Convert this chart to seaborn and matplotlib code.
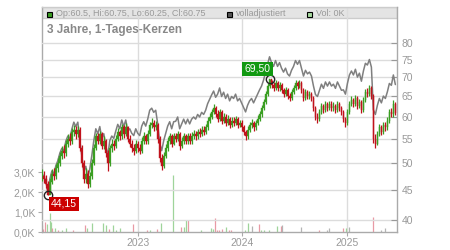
import numpy as np
import pandas as pd
import matplotlib
matplotlib.use("Agg")
import matplotlib.pyplot as plt
import matplotlib.dates as mdates
from matplotlib.patches import Rectangle
from matplotlib.ticker import NullLocator
import seaborn as sns

# ---------------- data ----------------
start_date = "2022-01-28"   # weekly candles
close = [
    47.5, 47, 46, 44.15, 46.5, 48, 47.5, 49, 50, 51.5,
    52.5, 52, 54, 55, 54.5, 56.5, 57, 56, 57, 53,
    50, 47, 48, 46, 47.5, 50, 53, 55.5, 54.5, 56,
    53.5, 54.5, 52, 50, 53, 54, 53.5, 55, 56.5, 55.5,
    57.5, 56, 57.5, 55, 54, 53, 52.5, 54, 53, 52.5,
    54.5, 55.5, 54.5, 56, 58, 58.5, 57.5, 58, 55, 51,
    49.5, 51.5, 53, 54.5, 55.5, 54, 55.5, 55, 56, 53.5,
    54.5, 55.5, 54.5, 55.5, 54.5, 55.5, 56, 55.5, 56.5, 56,
    57, 56.5, 57.5, 59, 60, 61, 62, 60.5, 59.5, 61,
    59, 60, 58.5, 59.5, 58, 59, 58.5, 59.5, 58, 58.5,
    57.5, 56.5, 55.5, 57, 58, 58.5, 57.5, 58.5, 59.5, 60.5,
    62, 63.5, 65.5, 67.5, 69.5, 68, 67, 68.5, 67, 68,
    66.5, 65.5, 66.5, 65, 64.5, 66, 67, 68.5, 67.5, 68.5,
    66.5, 64.5, 66, 65, 65.5, 64.5, 62, 60, 59.5, 61,
    62.5, 61.5, 63, 62, 63, 62, 62.5, 61.5, 63, 62,
    61, 59.5, 58.5, 61, 63, 64, 63, 64.5, 62.5, 63.5,
    61.5, 64, 66, 65.5, 67, 65, 55, 54, 56, 57.5,
    56.5, 58, 57.5, 59, 61, 60.5, 63, 60.75,
]
high = [
    48.8, 48.5, 47.8, 46.6, 47.2, 48.9, 49.0, 49.8, 51.0, 52.3,
    53.5, 53.6, 54.8, 56.0, 56.2, 57.3, 58.0, 57.8, 57.8, 57.5,
    53.6, 50.6, 49.0, 48.6, 48.3, 50.8, 53.8, 56.2, 56.3, 56.8,
    56.5, 55.5, 55.0, 52.6, 53.6, 55.0, 54.8, 55.8, 57.3, 57.0,
    58.3, 58.0, 58.4, 57.9, 55.8, 54.7, 53.8, 54.8, 54.6, 53.9,
    55.3, 56.4, 56.0, 56.9, 58.8, 59.6, 59.2, 59.0, 58.4, 55.5,
    51.8, 52.3, 53.8, 55.3, 56.3, 56.0, 56.2, 56.3, 56.8, 56.4,
    55.3, 56.2, 56.0, 56.3, 56.2, 56.4, 56.9, 56.7, 57.2, 57.3,
    57.8, 57.8, 58.3, 59.8, 60.9, 61.9, 63.0, 62.6, 61.5, 61.9,
    61.5, 60.8, 60.5, 60.3, 60.0, 59.8, 59.8, 60.2, 60.0, 59.3,
    59.2, 58.0, 57.0, 57.8, 58.8, 59.4, 59.0, 59.3, 60.3, 61.3,
    62.7, 64.3, 66.3, 68.3, 69.5, 69.3, 68.7, 69.2, 68.9, 68.8,
    68.5, 67.2, 67.3, 67.0, 65.8, 66.8, 67.9, 69.2, 69.0, 69.3,
    68.9, 67.0, 66.8, 66.6, 66.4, 66.0, 65.0, 62.5, 60.8, 61.8,
    63.3, 63.0, 63.8, 63.6, 63.8, 63.7, 63.4, 63.0, 63.8, 63.6,
    62.6, 61.6, 60.0, 61.8, 63.8, 64.9, 64.6, 65.3, 65.0, 64.3,
    64.0, 64.8, 66.8, 67.0, 68.0, 67.5, 65.5, 56.0, 56.8, 58.3,
    58.0, 58.8, 58.7, 59.8, 61.8, 62.0, 64.0, 63.5,
]
low = [
    46.6, 46.2, 45.3, 44.15, 44.5, 46.0, 46.8, 47.0, 48.3, 49.5,
    50.8, 51.0, 51.5, 53.2, 53.6, 54.0, 55.6, 55.0, 55.4, 52.4,
    49.3, 46.3, 46.2, 45.4, 45.5, 47.0, 49.6, 52.6, 53.8, 54.0,
    52.8, 52.8, 51.3, 48.5, 49.4, 52.3, 52.6, 53.0, 54.5, 54.8,
    55.0, 55.2, 55.5, 54.3, 53.2, 52.2, 51.6, 52.0, 52.3, 51.8,
    52.0, 54.0, 53.8, 54.0, 55.5, 57.3, 56.8, 56.9, 54.2, 50.2,
    48.6, 49.0, 51.0, 52.5, 54.0, 53.2, 53.6, 54.3, 54.5, 52.7,
    53.0, 54.0, 53.9, 54.0, 53.8, 54.0, 55.0, 54.8, 55.0, 55.3,
    55.5, 55.9, 56.0, 57.0, 58.5, 59.5, 60.5, 59.8, 58.8, 59.0,
    58.3, 58.4, 57.8, 58.0, 57.3, 57.5, 57.8, 58.0, 57.3, 57.5,
    56.8, 55.8, 54.8, 55.0, 56.5, 57.4, 56.8, 57.0, 58.0, 59.0,
    60.0, 61.5, 63.0, 65.0, 67.0, 67.2, 66.2, 66.5, 66.3, 66.4,
    65.8, 64.7, 65.0, 64.3, 63.7, 64.0, 65.5, 66.5, 66.8, 67.0,
    65.8, 63.7, 64.0, 64.2, 64.3, 63.7, 61.3, 59.2, 58.6, 59.0,
    60.5, 60.8, 61.0, 61.3, 61.5, 61.2, 61.4, 60.8, 61.0, 61.3,
    60.3, 58.8, 57.6, 58.0, 60.5, 62.5, 62.2, 62.5, 61.8, 62.0,
    60.8, 61.0, 63.5, 64.8, 65.0, 64.2, 54.2, 53.0, 53.6, 55.5,
    55.8, 56.0, 56.8, 57.0, 58.5, 59.8, 60.0, 60.25,
]
adjusted = [
    48.0, 47.5, 46.5, 44.6, 47.0, 48.5, 48.0, 49.5, 50.5, 52.0,
    53.0, 52.5, 54.5, 55.6, 55.0, 57.1, 58.7, 57.7, 58.7, 54.6,
    51.5, 48.4, 49.4, 47.4, 48.9, 51.5, 54.6, 57.2, 56.1, 57.7,
    55.1, 56.1, 53.6, 51.5, 54.6, 55.6, 55.1, 56.7, 58.2, 57.2,
    59.2, 57.7, 59.2, 56.7, 57.2, 56.2, 55.7, 57.2, 56.2, 55.7,
    57.8, 58.8, 57.8, 59.4, 61.5, 62.0, 61.0, 61.5, 58.3, 54.1,
    52.5, 54.6, 56.2, 57.8, 58.8, 57.2, 58.8, 58.9, 59.9, 57.2,
    58.3, 59.4, 58.3, 59.4, 58.3, 59.4, 59.9, 59.4, 60.5, 59.9,
    61.0, 60.5, 61.5, 63.1, 64.2, 65.3, 66.3, 64.7, 65.5, 67.1,
    64.9, 66.0, 64.4, 65.5, 63.8, 64.9, 64.4, 65.5, 63.8, 64.4,
    63.3, 62.2, 61.1, 62.7, 63.8, 64.4, 63.3, 64.4, 65.5, 66.6,
    67.6, 69.2, 71.4, 73.6, 75.8, 74.1, 73.0, 74.7, 73.0, 74.1,
    72.5, 71.4, 72.5, 70.9, 70.3, 71.9, 73.0, 74.7, 73.6, 74.7,
    72.5, 70.3, 71.9, 70.9, 71.4, 70.3, 67.6, 65.4, 64.9, 66.5,
    68.1, 67.0, 68.7, 67.6, 68.7, 67.6, 68.1, 67.0, 68.7, 67.6,
    66.5, 66.6, 65.5, 68.3, 70.6, 71.7, 70.6, 72.2, 70.0, 71.1,
    68.9, 71.7, 73.9, 73.4, 75.0, 72.8, 61.6, 60.5, 62.7, 64.4,
    63.3, 65.0, 64.4, 66.1, 68.3, 67.8, 70.6, 68.0,
]
vol_dates = [
    "2022-01-27", "2022-02-02", "2022-02-08", "2022-02-16", "2022-02-24",
    "2022-03-01", "2022-03-04", "2022-03-15", "2022-03-25", "2022-04-08",
    "2022-04-22", "2022-05-17", "2022-06-27", "2022-07-04", "2022-07-21",
    "2022-08-31", "2022-09-09", "2022-09-19", "2022-10-05", "2022-10-14",
    "2022-10-28", "2022-12-14", "2023-01-30", "2023-02-10", "2023-03-06",
    "2023-03-21", "2023-05-03", "2023-05-30", "2023-06-09", "2023-06-16",
    "2023-06-23", "2023-08-09", "2023-09-13", "2023-09-19", "2023-09-27",
    "2023-10-04", "2023-10-10", "2023-10-20", "2023-11-03", "2023-11-14",
    "2023-11-21", "2024-01-10", "2024-01-19", "2024-02-05", "2024-02-27",
    "2024-03-06", "2024-03-18", "2024-04-04", "2024-04-30", "2024-05-14",
    "2024-05-17", "2024-07-26", "2024-09-25", "2024-10-25", "2024-10-31",
    "2024-12-20", "2024-12-30", "2025-01-10", "2025-04-04", "2025-04-30",
    "2025-05-16",
]
vol_k = [
    0.35, 0.15, 0.5, 0.4, 0.95, 0.5, 0.2, 0.2, 0.1, 0.1,
    0.2, 0.1, 0.35, 0.2, 0.45, 0.45, 0.35, 0.15, 0.35, 0.1,
    0.2, 0.4, 0.1, 0.1, 0.15, 0.45, 2.85, 0.25, 0.25, 0.6,
    0.6, 0.1, 0.2, 0.15, 0.7, 0.1, 0.1, 0.15, 0.25, 0.1,
    0.1, 0.1, 0.45, 0.3, 0.4, 0.1, 0.1, 0.1, 0.3, 0.3,
    0.35, 0.25, 0.1, 0.1, 0.2, 0.2, 0.2, 0.25, 0.75, 0.1,
    0.2,
]
vol_dir = [
    "d", "d", "d", "u", "u", "u", "d", "u", "d", "u",
    "u", "d", "d", "u", "u", "u", "u", "d", "u", "u",
    "u", "d", "d", "u", "d", "u", "u", "d", "u", "u",
    "d", "u", "u", "u", "d", "d", "d", "d", "u", "d",
    "d", "u", "u", "n", "d", "u", "u", "u", "u", "d",
    "n", "n", "d", "n", "n", "d", "u", "n", "d", "n",
    "n",
]
last_ohlc = [60.5, 60.75, 60.25, 60.75]
last_vol_k = 0
price_ticks = [40, 45, 50, 55, 60, 65, 70, 75, 80]
vol_ticks = [0, 1, 2, 3]
year_ticks = ["2023-01-01", "2024-01-01", "2025-01-01"]
title = "3 Jahre, 1-Tages-Kerzen"

# ---------------- styling ----------------
sns.set_theme(style="white")
plt.rcParams["font.family"] = ["Liberation Sans", "DejaVu Sans"]

UP, DOWN = "#3a9e22", "#c0121c"
VOL_COL = {"u": "#9fd49a", "d": "#e89aa5", "n": "#b4b4b4"}
TXT = "#999999"

dates = pd.date_range(start_date, periods=len(close), freq="7D")
df = pd.DataFrame({"date": dates, "close": close, "high": high, "low": low,
                   "adjusted": adjusted})
df["open"] = df["close"].shift(1).fillna(df["close"])
df["lo"] = df[["open", "close"]].min(axis=1)
df["hi"] = df[["open", "close"]].max(axis=1)
up_mask = (df["close"] >= df["open"]).to_numpy()

W, H = 450, 250
fig = plt.figure(figsize=(W / 100, H / 100), dpi=100)
L, R, T, B = 41.5, 397.3, 7, 232
axv = fig.add_axes([L / W, (H - B) / H, (R - L) / W, (B - T) / H])
axp = axv.twinx()

# ---- volume (left axis) ----
vd = pd.to_datetime(vol_dates)
axv.vlines(vd, 0, vol_k, colors=[VOL_COL[c] for c in vol_dir], linewidth=0.9, zorder=2)
axv.set_ylim(0, 11.25)
axv.set_yticks(vol_ticks)
axv.set_yticklabels([f"{v:.1f}K".replace(".", ",") for v in vol_ticks])

x0 = mdates.date2num(pd.Timestamp("2023-01-01"))
axv.set_xlim(x0 - 339.3, x0 + 907.8)
axv.set_xticks(pd.to_datetime(year_ticks))
axv.xaxis.set_major_formatter(mdates.DateFormatter("%Y"))
axv.set_axisbelow(True)
axv.grid(axis="x", color="#dcdcdc", linewidth=1)
axv.grid(axis="y", visible=False)

# legend band (behind grid)
axv.add_patch(Rectangle((0, (B - 18) / (B - T)), 1, 1 - (B - 18) / (B - T),
                        transform=axv.transAxes, facecolor="#e4e4e4",
                        edgecolor="#cccccc", linewidth=1, zorder=0))

# ---- price (right, log axis) ----
axp.set_yscale("log")
sns.lineplot(data=df, x="date", y="adjusted", ax=axp, color="#7f7f7f",
             linewidth=1.1, zorder=2)
for mask, col in [(up_mask, UP), (~up_mask, DOWN)]:
    sub = df[mask]
    axp.vlines(sub["date"].to_numpy(), sub["low"].to_numpy(), sub["high"].to_numpy(),
               colors=col, linewidth=0.9, zorder=3)
    axp.bar(sub["date"].to_numpy(), (sub["hi"] - sub["lo"]).to_numpy(),
            bottom=sub["lo"].to_numpy(), width=4.5, color=col,
            edgecolor=col, linewidth=0.3, zorder=3)
axp.set_ylim(38.2, 92.1)
axp.yaxis.set_minor_locator(NullLocator())
axp.set_yticks(price_ticks)
axp.set_yticklabels([str(t) for t in price_ticks])
axp.set_ylabel("")
axp.set_xlabel("")
axv.set_xlabel("")
axp.set_axisbelow(True)
axp.grid(axis="y", color="#dcdcdc", linewidth=1)

# extreme markers
imin = int(np.argmin(low))
imax = int(np.argmax(high))
for i, val, col, off, ha in [(imin, low[imin], "#cc0000", (3, -9), "left"),
                             (imax, high[imax], "#119911", (1, 10), "right")]:
    axp.plot(dates[i], val, marker="o", ms=6, mfc="none", mec="#222222", mew=1, zorder=5)
    axp.annotate(f"{val:.2f}".replace(".", ","), xy=(dates[i], val),
                 xytext=off, textcoords="offset pixels", ha=ha, va="center",
                 color="white", fontsize=7.5, zorder=6,
                 bbox=dict(boxstyle="square,pad=0.2", fc=col, ec="none"))

# ---- spines & ticks ----
for ax in (axv, axp):
    for s in ax.spines.values():
        s.set_visible(False)
axv.spines["left"].set_visible(True)
axv.spines["bottom"].set_visible(True)
axv.spines["top"].set_visible(True)
axp.spines["right"].set_visible(True)
for s, c in [(axv.spines["left"], "#aaaaaa"), (axv.spines["bottom"], "#aaaaaa"),
             (axv.spines["top"], "#cccccc"), (axp.spines["right"], "#aaaaaa")]:
    s.set_color(c)
    s.set_linewidth(1)

axv.tick_params(axis="y", left=True, length=3, width=0.8, color="#aaaaaa",
                labelsize=7.5, labelcolor=TXT, pad=1.5)
axv.tick_params(axis="x", bottom=True, length=3, width=0.8, color="#aaaaaa",
                labelsize=7.5, labelcolor=TXT, pad=1.5)
axp.tick_params(axis="y", right=True, direction="in", length=4, width=0.8,
                color="#999999", labelsize=7.5, labelcolor=TXT, pad=3)

# ---- header texts ----
def fx(x):
    return x / W

def fy(y):
    return 1 - y / H

legend_items = [
    (46.7, UP, "#000000", "Op:{}, Hi:{}, Lo:{}, Cl:{}".format(*[f"{v:g}" for v in last_ohlc])),
    (226.7, "#555555", "#000000", "volladjustiert"),
    (307.0, "#a8dca0", "#000000", f"Vol: {last_vol_k}K"),
]
for x, fc, ec, txt in legend_items:
    fig.patches.append(Rectangle((fx(x), fy(17)), 5 / W, 5 / H, transform=fig.transFigure,
                                 facecolor=fc, edgecolor=ec, linewidth=0.8, zorder=3))
    fig.text(fx(x + 9), fy(13.5), txt, fontsize=6.5, color=TXT, va="center", ha="left")

fig.text(fx(46.7), fy(30), title, fontsize=8.5, fontweight="bold", color="#888888",
         va="center", ha="left")

fig.savefig("out.png", dpi=100)
